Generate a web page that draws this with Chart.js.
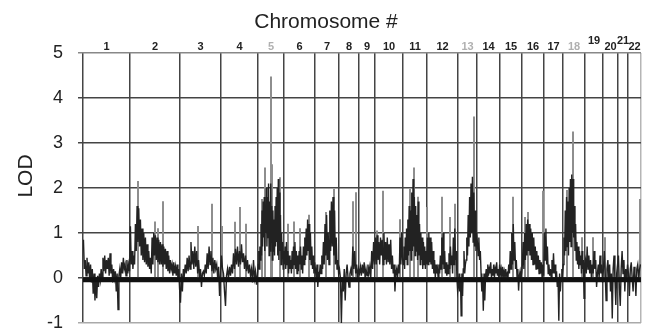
<!DOCTYPE html>
<html>
<head>
<meta charset="utf-8">
<script src="https://cdn.jsdelivr.net/npm/chart.js@4.4.1/dist/chart.umd.min.js"></script>
<style>
  html,body{margin:0;padding:0;background:#fff;}
  #wrap{width:646px;height:333px;}
</style>
</head>
<body>
<div id="wrap"><canvas id="c" width="646" height="333"></canvas></div>
<script>
// ---- Data ----
const chromNames = ['1','2','3','4','5','6','7','8','9','10','11','12','13','14','15','16','17','18','19','20','21','22'];
const chromLengths = [235,250,205,185,130,155,120,100,80,140,120,155,95,115,110,110,95,110,90,75,50,65]; // cM (estimated)
const grayLabels = ['5','13','18'];
const raisedLabels = ['19','21'];
const yTicks = [-1,0,1,2,3,4,5];

const lodChr1 = [0.85,0.2,0.4,0.05,0.45,0.1,0.35,-0.05,0.3,-0.1,0.2,-0.35,0.1,-0.5,0.0,-0.45,0.05,-0.2,0.1,-0.05,0.2,0.0,0.45,0.15,0.5,0.1,0.4,0.2,0.45,0.05,0.55,0.1,0.3,-0.1,0.2,0.0,0.15,-0.3,0.1,-0.7,0.05,0.2,0.0,0.35,0.1,0.45,0.2,0.3,0.05,0.4,0.1,0.3,0.15];
const lodChr2 = [1.15,0.3,0.6,0.2,0.5,0.3,1.2,0.6,1.6,0.8,1.55,0.7,1.3,0.5,1.1,0.4,1.0,0.35,0.9,0.3,0.75,0.25,0.6,0.2,0.45,0.1,0.9,0.3,1.0,0.5,0.95,0.4,0.9,0.35,0.85,0.3,0.8,0.3,0.75,0.25,0.7,0.3,0.65,0.2,0.6,0.15,0.5,0.1,0.4,0.2,0.3,0.05,0.35,0.1,0.25,0.05,0.3,0.0,0.2,-0.25];
const lodChr3 = [-0.55,0.1,-0.3,0.2,0.05,0.3,0.1,0.45,0.15,0.5,0.2,0.8,0.3,0.6,0.2,0.7,0.25,0.6,0.1,0.4,0.05,0.2,-0.2,0.1,0.15,0.05,0.3,0.1,0.55,0.2,0.7,0.3,0.6,0.15,0.45,0.1,0.4,0.2,0.3,0.0,0.25,-0.4,0.1];
const lodChr4 = [0.5,0.2,0.1,-0.3,-0.62,0.05,0.2,0.0,0.25,0.05,0.3,0.1,0.55,0.2,0.65,0.3,0.7,0.25,0.6,0.3,0.75,0.35,0.55,0.2,0.5,0.15,0.4,0.1,0.3,0.05,0.2,-0.1,0.4,0.0,0.15,-0.15,0.1];
const lodChr5 = [0.3,0.6,0.2,0.7,0.4,1.2,0.5,1.5,0.7,1.7,0.9,1.8,0.6,1.6,1.0,2.0,0.7,1.8,0.9,2.1,0.5,1.7,0.6,2.1,0.8,1.6,0.4,1.5,0.6,1.3,0.5,1.6,0.7,1.8,0.8,2.0,0.5,2.2,0.4,1.9,0.6,1.4,0.3,1.0,0.5,0.8,0.2,0.6];
const lodChr6 = [0.3,0.7,0.2,0.8,0.3,0.6,0.1,0.5,0.2,0.4,0.1,0.6,0.2,0.7,0.3,0.8,0.2,0.6,0.1,0.5,0.15,0.6,0.3,0.7,0.2,0.5,0.1,0.7,0.3,0.9,0.4,1.1,0.5,1.3,0.6,1.2,0.4,1.0,0.3,0.7,0.2,0.5,0.1,0.35];
const lodChr7 = [0.2,0.0,0.3,-0.2,0.1,0.05,0.3,0.1,0.5,0.2,0.8,0.3,1.2,0.5,1.4,0.4,1.0,0.3,1.5,0.6,1.7,0.7,1.8,0.5,1.5,0.3,0.9,0.2,0.4,0.1];
const lodChr8 = [0.2,0.0,-1.0,0.0,-0.3,0.2,-0.5,0.1,0.3,0.0,-0.2,0.1,0.2,0.05,0.7,0.2,0.6,0.1,0.3,0.0,0.2];
const lodChr9 = [0.1,0.25,0.05,0.3,0.1,0.35,0.0,0.2,0.05,0.3,0.1,0.25,0.0,0.6,0.2,0.8,0.3];
const lodChr10 = [0.9,0.3,0.95,0.4,0.8,0.3,0.9,0.5,0.85,0.3,1.0,0.4,0.8,0.3,0.9,0.35,0.75,0.3,0.85,0.2,0.5,0.1,0.3,-0.3,0.1,0.2,0.0,0.3,0.1,0.9,0.3,1.0,0.4];
const lodChr11 = [0.3,0.7,0.2,0.9,0.4,1.1,0.3,1.3,0.5,1.6,0.6,1.5,0.4,1.9,0.6,2.2,0.7,1.8,0.5,1.6,0.6,1.4,0.4,1.7,0.5,1.2,0.3,1.0,0.4,0.9,0.2,0.8,0.3,0.7,0.2,0.6,0.3];
const lodChr12 = [0.9,0.3,1.0,0.35,0.9,0.3,0.8,0.2,0.6,0.1,0.4,0.0,0.3,0.1,0.2,0.0,0.3,0.1,0.5,0.2,0.9,0.3,1.0,0.2,0.6,0.1,0.35,0.05,0.3,0.1,0.55,0.2,0.7,0.3,0.5,0.1,0.9,0.3,1.1,0.4,0.6,0.0,-0.3];
const lodChr13 = [-0.2,0.1,-0.3,0.0,-0.84,0.1,-0.4,0.2,0.6,0.1,0.3,0.4,0.9,0.5,1.4,0.7,1.8,0.9,2.1,1.0,2.25,0.8,1.9,0.7,1.5,0.6,1.0];
const lodChr14 = [0.8,0.5,0.9,0.4,0.6,0.1,-0.3,0.0,-0.73,0.1,-0.5,0.05,0.2,0.0,0.3,0.05,0.2,0.1,0.35,0.0,0.2,0.05,0.3,0.0,0.2,0.1,0.35,0.05,0.2,0.0,0.3];
const lodChr15 = [0.1,0.2,0.0,0.25,0.05,0.15,0.0,0.2,0.05,0.1,0.0,0.3,0.1,0.6,0.2,1.0,0.3,1.2,0.4,0.8,0.2,0.4,0.0,0.2,-0.28,0.05,0.15,0.0,0.1];
const lodChr16 = [0.3,0.8,0.2,1.0,0.4,1.2,0.5,1.3,0.6,1.2,0.5,1.1,0.4,1.0,0.3,0.9,0.3,0.7,0.2,0.6,0.2,0.5,0.1,0.4,0.1,0.35,0.0,0.3,0.05];
const lodChr17 = [1.0,0.4,1.1,0.3,0.7,0.1,0.3,0.05,0.2,0.0,0.4,0.1,0.55,0.1,0.3,0.0,0.15,-0.2,0.0,-0.95,0.1,-0.3,0.0,0.2,0.1];
const lodChr18 = [0.3,0.9,0.5,1.5,0.6,1.8,0.7,1.7,0.5,2.0,0.8,2.2,0.7,2.3,1.0,2.2,0.9,1.6,0.6,1.2,0.4,0.8,0.3,0.7,0.2,0.6,0.3,0.5,0.1,0.6,0.2,0.4,-0.45,0.3];
const lodChr19 = [0.4,0.1,0.7,0.2,0.5,0.1,0.4,0.0,0.3,0.1,0.6,0.2,0.4,-0.2,0.1,0.3,0.0,0.5,0.1,0.3,-0.1];
const lodChr20 = [0.2,0.6,0.1,-0.5,0.2,0.4,0.0,0.3,-0.3,0.1,-0.9,0.2,0.5,0.0,-0.6,0.1,0.3];
const lodChr21 = [0.5,-0.2,-0.62,0.2,0.6,0.1,0.4,-0.3,0.2,0.0,0.3];
const lodChr22 = [0.1,-0.4,0.2,0.35,0.0,-0.3,0.25,0.1,-0.4,0.2,0.3,0.0,0.2,0.3];

// tall thin (gray) peaks: genome position (cM) and LOD
const spikePos = [275,360,375,400,575,645,695,760,785,815,895,910,940,945,985,1025,1055,1085,1130,1215,1255,1350,1365,1470,1500,1585,1635,1655,1675,1720,1795,1835,1860,1955,2150,2210,2225,2300,2420,2450,2495,2550,2610,2785];
const spikeLod = [2.15,1.25,1.1,1.7,1.15,1.64,1.15,1.24,1.57,1.2,1.75,2.45,4.47,2.52,2.23,1.2,1.25,1.1,1.4,1.46,1.97,1.7,1.9,1.05,1.93,1.3,1.97,2.45,1.8,1.57,1.8,1.35,1.64,3.58,1.8,1.35,1.46,1.93,1.95,3.25,0.9,0.9,0.9,1.75];

// ---- Build chart structures ----
const lodByChrom = [lodChr1,lodChr2,lodChr3,lodChr4,lodChr5,lodChr6,lodChr7,lodChr8,lodChr9,lodChr10,lodChr11,lodChr12,lodChr13,lodChr14,lodChr15,lodChr16,lodChr17,lodChr18,lodChr19,lodChr20,lodChr21,lodChr22];
const boundaries = [0];
chromLengths.forEach((l,i)=>boundaries.push(boundaries[i]+l));
const totalLen = boundaries[boundaries.length-1];
const tracePoints = [];
lodByChrom.forEach((arr,ci)=>{
  const start = boundaries[ci], len = chromLengths[ci];
  arr.forEach((v,i)=>tracePoints.push({x: start + (i+0.5)*len/arr.length, y: v}));
});
const spikePoints = spikePos.map((p,i)=>({x:p, y:spikeLod[i]}));
const chromCenters = chromLengths.map((l,i)=>boundaries[i]+l/2);

const textPlugin = {
  id:'texts',
  afterDraw(chart){
    const ctx = chart.ctx, xs = chart.scales.x, ca = chart.chartArea;
    ctx.save();
    ctx.fillStyle = '#222';
    ctx.font = '21px "Liberation Sans", Arial, sans-serif';
    ctx.textAlign = 'center';
    ctx.textBaseline = 'alphabetic';
    ctx.fillText('Chromosome #', 326, 28);
    ctx.save();
    ctx.translate(32, 176);
    ctx.rotate(-Math.PI/2);
    ctx.fillText('LOD', 0, 0);
    ctx.restore();
    ctx.font = 'bold 11px "Liberation Sans", Arial, sans-serif';
    chromNames.forEach((n,i)=>{
      ctx.fillStyle = grayLabels.includes(n) ? '#b0b0b0' : '#222';
      const y = raisedLabels.includes(n) ? ca.top - 9 : ca.top - 3;
      ctx.fillText(n, xs.getPixelForValue(chromCenters[i]), y);
    });
    ctx.restore();
  }
};

new Chart(document.getElementById('c'), {
  type:'line',
  data:{
    datasets:[
      {type:'line', data:[{x:0,y:-0.04},{x:totalLen,y:-0.04}], borderColor:'#111', borderWidth:5, pointRadius:0, order:0},
      {type:'line', data:tracePoints, borderColor:'#222', borderWidth:1.4, pointRadius:0, tension:0, order:1},
      {type:'bar', data:spikePoints, backgroundColor:'#8c8c8c', barThickness:1.3, order:2}
    ]
  },
  options:{
    responsive:false,
    animation:false,
    devicePixelRatio:1,
    layout:{padding:{left:0, top:53, right:5, bottom:10}},
    plugins:{legend:{display:false}, tooltip:{enabled:false}},
    scales:{
      x:{
        type:'linear', min:0, max:totalLen, offset:false,
        afterBuildTicks(s){ s.ticks = boundaries.map(v=>({value:v})); },
        afterFit(s){ s.height = 0; s.paddingLeft = 0; s.paddingRight = 0; },
        ticks:{display:false},
        border:{display:false},
        grid:{
          offset:false, drawTicks:false, lineWidth:1.5,
          color(ctx){ return ctx.index === boundaries.length-1 ? '#b5b5b5' : '#444'; }
        }
      },
      y:{
        min:-1, max:5,
        afterBuildTicks(s){ s.ticks = yTicks.map(v=>({value:v})); },
        afterFit(s){ s.width = 83; s.paddingTop = 0; s.paddingBottom = 0; },
        ticks:{color:'#222', padding:15, font:{size:18, family:'"Liberation Sans", Arial, sans-serif'}},
        border:{display:false},
        grid:{
          drawTicks:true, tickLength:5, lineWidth:1.5,
          color(ctx){ const v = ctx.tick && ctx.tick.value; return v===5 ? '#888' : (v===-1 ? '#aaa' : '#444'); }
        }
      }
    }
  },
  plugins:[textPlugin]
});
</script>
</body>
</html>
